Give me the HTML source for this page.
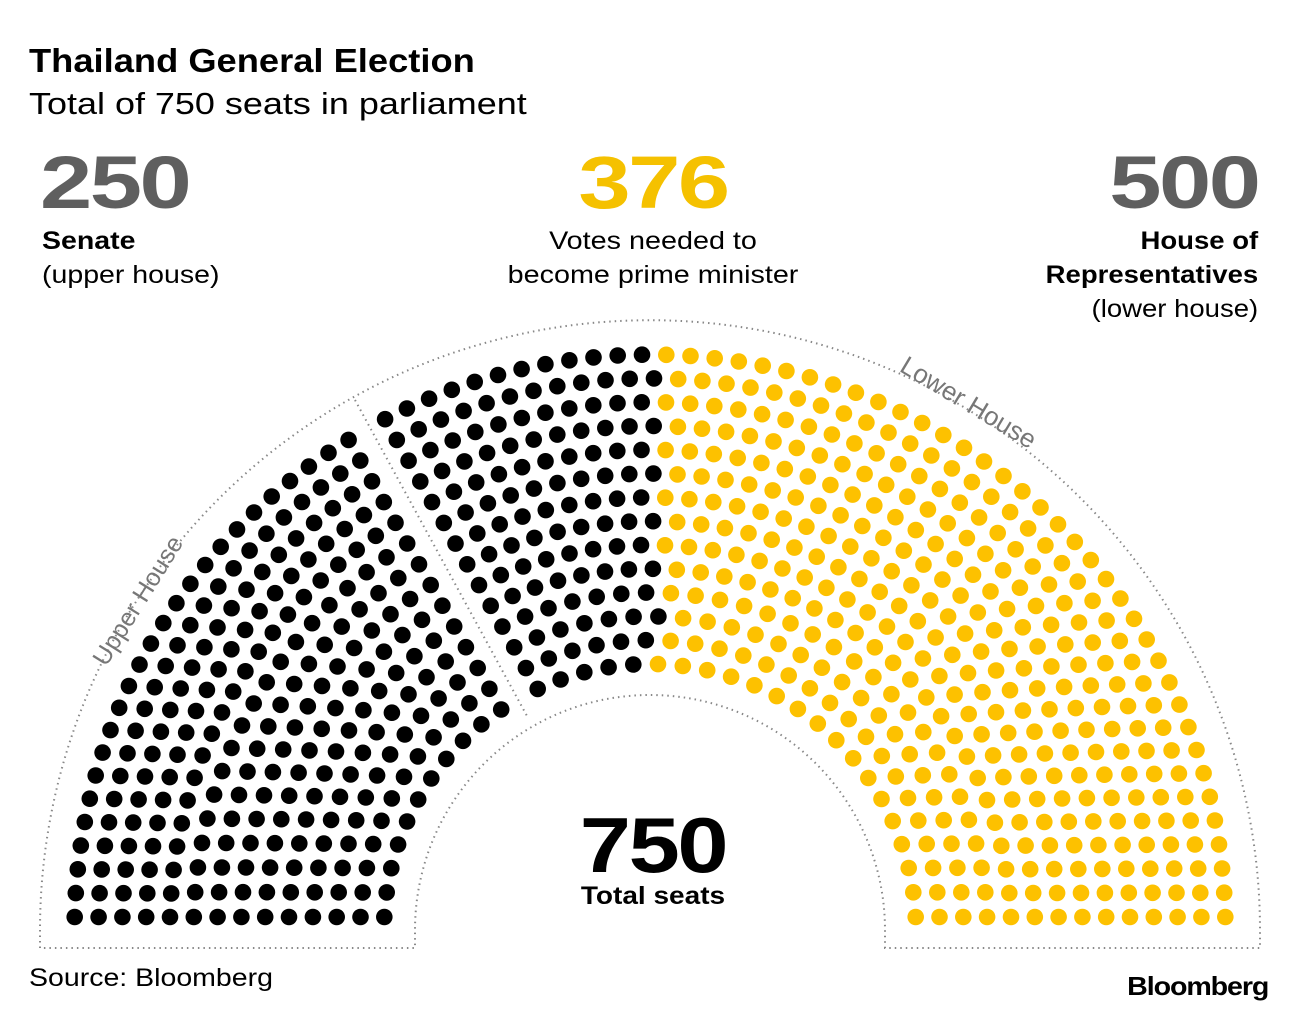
<!DOCTYPE html>
<html><head><meta charset="utf-8"><style>
html,body{margin:0;padding:0;background:#fff;}
body{width:1296px;height:1014px;position:relative;overflow:hidden;font-family:"Liberation Sans",sans-serif;color:#000;}
.t{position:absolute;white-space:nowrap;}
.l{transform-origin:0 0;}
.c{transform-origin:50% 0;}
.r{transform-origin:100% 0;}
</style></head><body>
<div class="t l" style="left:29px;top:42px;font-size:33px;font-weight:bold;transform:scaleX(1.1);">Thailand General Election</div>
<div class="t l" style="left:29px;top:86px;font-size:31px;transform:scaleX(1.16);">Total of 750 seats in parliament</div>
<div class="t l" style="left:40px;top:140px;font-size:74px;font-weight:bold;color:#5f5f5f;letter-spacing:-2px;transform:scaleX(1.27);">250</div>
<div class="t l" style="left:42px;top:224px;font-size:25px;line-height:34px;transform:scaleX(1.14);"><b>Senate</b><br>(upper house)</div>
<div class="t c" style="left:453px;width:400px;text-align:center;top:140px;font-size:74px;font-weight:bold;color:#f5c100;letter-spacing:-2px;transform:scaleX(1.27);">376</div>
<div class="t c" style="left:453px;width:400px;text-align:center;top:224px;font-size:25px;line-height:34px;transform:scaleX(1.15);">Votes needed to<br>become prime minister</div>
<div class="t r" style="right:38px;text-align:right;top:140px;font-size:74px;font-weight:bold;color:#5f5f5f;letter-spacing:-2px;transform:scaleX(1.27);">500</div>
<div class="t r" style="right:38px;text-align:right;top:224px;font-size:25px;line-height:34px;transform:scaleX(1.1);"><b>House of<br>Representatives</b><br>(lower house)</div>
<svg width="1296" height="1014" style="position:absolute;left:0;top:0;" id="chart">
<path d="M40,948 L40,930 A610,610 0 0 1 1260,930 L1260,948 L885,948 L885,930 A235,235 0 0 0 415,930 L415,948 Z" fill="none" stroke="#888" stroke-width="2" stroke-dasharray="1.5,4"/>
<line x1="355" y1="400" x2="527" y2="716" stroke="#888" stroke-width="2" stroke-dasharray="1.5,4"/>
<text x="0" y="0" transform="translate(145,605) rotate(-58)" text-anchor="middle" font-size="25" fill="#777" font-family="Liberation Sans, sans-serif">Upper House</text>
<text x="0" y="0" transform="translate(964,410) rotate(31)" text-anchor="middle" font-size="26" fill="#777" font-family="Liberation Sans, sans-serif">Lower House</text>
<g id="dots"></g>
</svg>
<div class="t c" style="left:453px;width:400px;text-align:center;top:800px;font-size:78px;font-weight:bold;letter-spacing:-2px;transform:scaleX(1.18);">750</div>
<div class="t c" style="left:453px;width:400px;text-align:center;top:882px;font-size:25px;font-weight:bold;transform:scaleX(1.12);">Total seats</div>
<div class="t l" style="left:29px;top:964px;font-size:25px;transform:scaleX(1.14);">Source: Bloomberg</div>
<div class="t r" style="right:28px;top:971px;font-size:26px;font-weight:bold;letter-spacing:-1px;transform:scaleX(1.1);">Bloomberg</div>
<script>
const sections = ['Senate', 'House of Representatives'];
const seats = [250, 500];
const sectionAngles = [[180, 119.5], [119.5, 0]];
const houseBlackSeats = 125;
const cx = 650, cy = 930, rows = 14, r0 = 266, dr = 23.8, dotR = 8.3;
const g = document.getElementById('dots');
const ns = 'http://www.w3.org/2000/svg';
const radii = [];
for (let i = 0; i < rows; i++) radii.push(r0 + i * dr);
const sumR = radii.reduce((a, b) => a + b, 0);
sections.forEach((sec, s) => {
  const total = seats[s];
  let counts = radii.map(r => Math.floor(total * r / sumR));
  let rem = total - counts.reduce((a, b) => a + b, 0);
  const fr = radii.map((r, i) => [total * r / sumR - counts[i], i]).sort((a, b) => b[0] - a[0]);
  for (let k = 0; k < rem; k++) counts[fr[k % rows][1]]++;
  const a0 = sectionAngles[s][0] * Math.PI / 180, a1 = sectionAngles[s][1] * Math.PI / 180;
  const pts = [];
  radii.forEach((r, i) => {
    const n = counts[i];
    const padStart = (s === 0 ? 13 : 21) / r;
    const padEnd = (s === 0 ? 21 : 13) / r;
    const start = a0 - padStart, end = a1 + padEnd;
    for (let j = 0; j < n; j++) {
      const a = n > 1 ? start + (end - start) * j / (n - 1) : (start + end) / 2;
      pts.push({a: a, r: r});
    }
  });
  pts.sort((p, q) => q.a - p.a);
  pts.forEach((p, k) => {
    const c = document.createElementNS(ns, 'circle');
    c.setAttribute('cx', (cx + p.r * Math.cos(p.a)).toFixed(1));
    c.setAttribute('cy', (cy - p.r * Math.sin(p.a)).toFixed(1));
    c.setAttribute('r', dotR);
    const black = s === 0 || k < houseBlackSeats;
    c.setAttribute('fill', black ? '#000' : '#fdc100');
    
    
    g.appendChild(c);
  });
});
</script>
</body></html>
